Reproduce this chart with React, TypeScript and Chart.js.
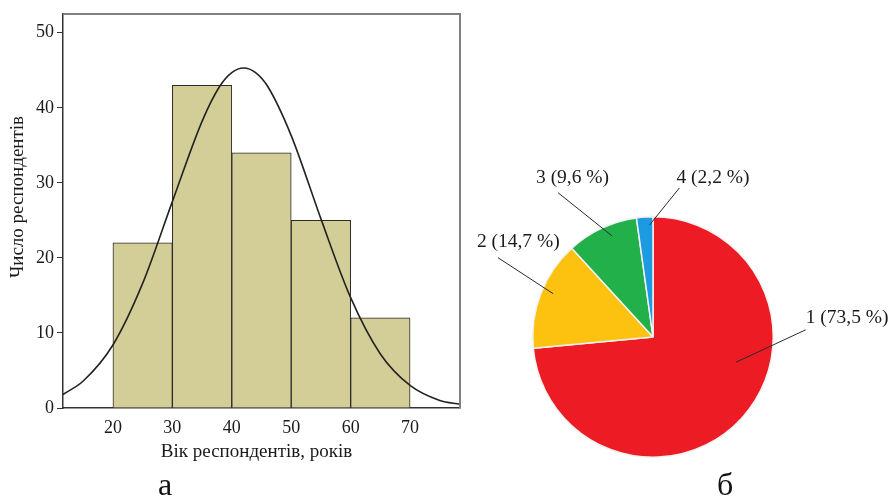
import { useEffect, useRef } from "react";
import { Chart, registerables } from "chart.js";

Chart.register(...registerables);

// ---------- Histogram (a) ----------
const ageBinCenters = [25, 35, 45, 55, 65];
const respondentCounts = [22, 43, 34, 25, 12];
const xAxisTitle = "Вік респондентів, років";
const yAxisTitle = "Число респондентів";

// normal curve
const curveAges = [11.6, 15, 20, 25, 30, 35, 38, 40, 42, 44, 46, 50, 55, 60, 65, 70, 75, 78.4];
const curveCounts = [1.8, 3.6, 8.4, 16.6, 27.5, 38.2, 42.9, 44.7, 45.3, 44.7, 42.9, 36.3, 25.2, 14.7, 7.2, 3.0, 1.0, 0.5];

// ---------- Pie (б) ----------
const groupLabels = ["1", "2", "3", "4"];
const groupShares = [73.5, 14.7, 9.6, 2.2];
const groupColors = ["#ED1C24", "#FDC20F", "#22B04B", "#1C9BE0"];

const SERIF = '"Liberation Serif", "Times New Roman", serif';

// leader-line layout relative to pie centre (in radius units) and text offset (px)
const leaderLayout = [
  { inner: [0.69, 0.21], outer: [1.27, -0.06], text: [0, -12] },
  { inner: [-0.83, -0.36], outer: [-1.29, -0.66], text: [-21, -16] },
  { inner: [-0.34, -0.84], outer: [-0.79, -1.2], text: [-22, -15] },
  { inner: [-0.03, -0.93], outer: [0.22, -1.24], text: [-3, -10] },
];

const frameAndTitlePlugin = {
  id: "frameAndTitle",
  afterDraw(chart: any) {
    const { ctx, chartArea } = chart;
    ctx.save();
    ctx.strokeStyle = "#808080";
    ctx.lineWidth = 2;
    ctx.beginPath();
    ctx.moveTo(chartArea.left, chartArea.top);
    ctx.lineTo(chartArea.right, chartArea.top);
    ctx.lineTo(chartArea.right, chartArea.bottom);
    ctx.stroke();
    ctx.font = `19px ${SERIF}`;
    ctx.fillStyle = "#1a1a1a";
    ctx.textAlign = "center";
    ctx.textBaseline = "middle";
    // x axis title
    ctx.fillText(xAxisTitle, (chartArea.left + chartArea.right) / 2 - 5, chartArea.bottom + 44);
    // y axis title
    ctx.translate(18, (chartArea.top + chartArea.bottom) / 2 - 14);
    ctx.rotate(-Math.PI / 2);
    ctx.fillText(yAxisTitle, 0, 0);
    ctx.restore();
  },
};

const pieLabelPlugin = {
  id: "pieLabels",
  afterDatasetsDraw(chart: any) {
    const meta = chart.getDatasetMeta(0);
    const ctx = chart.ctx;
    ctx.save();
    meta.data.forEach((arc: any, i: number) => {
      const { x, y, outerRadius: r } = arc.getProps(["x", "y", "outerRadius"], true);
      const L = leaderLayout[i];
      const ix = x + L.inner[0] * r;
      const iy = y + L.inner[1] * r;
      const ox = x + L.outer[0] * r;
      const oy = y + L.outer[1] * r;
      ctx.strokeStyle = "#2a2a2a";
      ctx.lineWidth = 1;
      ctx.beginPath();
      ctx.moveTo(ix, iy);
      ctx.lineTo(ox, oy);
      ctx.stroke();
      const text = `${groupLabels[i]} (${String(groupShares[i]).replace(".", ",")} %)`;
      ctx.font = `19.5px ${SERIF}`;
      ctx.fillStyle = "#1a1a1a";
      ctx.textAlign = "left";
      ctx.textBaseline = "middle";
      ctx.fillText(text, ox + L.text[0], oy + L.text[1]);
    });
    ctx.restore();
  },
};

export default function App() {
  const histRef = useRef<HTMLCanvasElement>(null);
  const pieRef = useRef<HTMLCanvasElement>(null);

  useEffect(() => {
    const hist = new Chart(histRef.current!, {
      type: "bar",
      data: {
        datasets: [
          {
            type: "line",
            data: curveAges.map((a, i) => ({ x: a, y: curveCounts[i] })),
            borderColor: "#222",
            borderWidth: 1.6,
            pointRadius: 0,
            cubicInterpolationMode: "monotone",
            fill: false,
            order: 0,
          } as any,
          {
            type: "bar",
            data: ageBinCenters.map((c, i) => ({ x: c, y: respondentCounts[i] })),
            backgroundColor: "#D3CE97",
            borderColor: "#2a2a2a",
            borderWidth: 1,
            barPercentage: 1,
            categoryPercentage: 1,
            order: 1,
          } as any,
        ],
      },
      options: {
        responsive: false,
        animation: false,
        layout: { padding: { top: 14, right: 20, left: 0, bottom: 0 } },
        plugins: { legend: { display: false }, tooltip: { enabled: false } },
        scales: {
          x: {
            type: "linear",
            min: 11.6,
            max: 78.4,
            offset: false,
            afterFit: (s: any) => {
              s.height = 62;
            },
            grid: { display: false, drawTicks: false, offset: false },
            border: { display: true, color: "#333", width: 1.5 },
            ticks: {
              stepSize: 10,
              includeBounds: false,
              padding: 9,
              color: "#1a1a1a",
              font: { family: SERIF, size: 18 },
              maxRotation: 0,
            },
          },
          y: {
            min: 0,
            max: 52.5,
            afterFit: (s: any) => {
              s.width = 63;
            },
            grid: { display: true, drawOnChartArea: false, drawTicks: true, tickLength: 6, color: "#333", lineWidth: 1 },
            border: { display: true, color: "#333", width: 1.5 },
            ticks: {
              stepSize: 10,
              includeBounds: false,
              padding: 3,
              color: "#1a1a1a",
              font: { family: SERIF, size: 18 },
            },
          },
        },
      } as any,
      plugins: [frameAndTitlePlugin],
    });

    const pie = new Chart(pieRef.current!, {
      type: "pie",
      data: {
        labels: groupLabels,
        datasets: [
          {
            data: groupShares,
            backgroundColor: groupColors,
            borderColor: "#f2f2f2",
            borderWidth: 1.5,
          },
        ],
      },
      options: {
        responsive: false,
        animation: false,
        layout: { padding: { left: 62, right: 120, top: 66, bottom: 22 } },
        plugins: { legend: { display: false }, tooltip: { enabled: false } },
      },
      plugins: [pieLabelPlugin],
    });

    return () => {
      hist.destroy();
      pie.destroy();
    };
  }, []);

  const letterStyle: React.CSSProperties = {
    position: "absolute",
    top: 466,
    fontFamily: SERIF,
    fontSize: 32,
    color: "#111",
    lineHeight: "normal",
  };

  return (
    <div
      style={{
        position: "absolute",
        left: 0,
        top: 0,
        width: 894,
        height: 497,
        overflow: "hidden",
        background: "#fff",
      }}
    >
      <canvas
        ref={histRef}
        width={480}
        height={470}
        style={{ position: "absolute", left: 0, top: 0, width: 480, height: 470 }}
      />
      <canvas
        ref={pieRef}
        width={424}
        height={330}
        style={{ position: "absolute", left: 470, top: 150, width: 424, height: 330 }}
      />
      <div style={{ ...letterStyle, left: 158 }}>а</div>
      <div style={{ ...letterStyle, left: 717 }}>б</div>
    </div>
  );
}
